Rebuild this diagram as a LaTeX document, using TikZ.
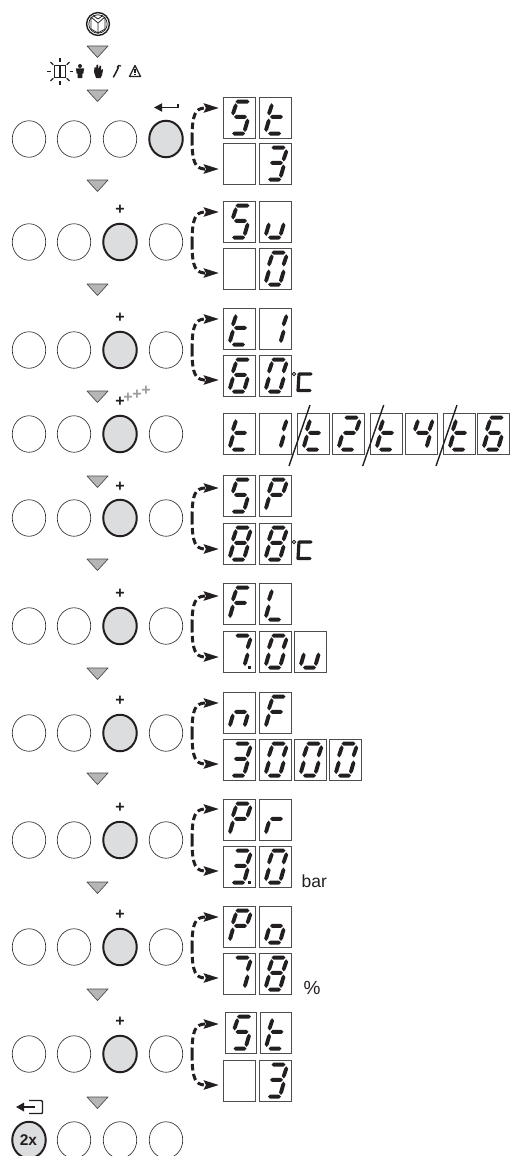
\documentclass[tikz,border=0pt]{standalone}
\usepackage{fontspec}
\setmainfont{Liberation Sans}
\usetikzlibrary{shapes.geometric,arrows.meta}
\definecolor{btnfill}{HTML}{DCDDDE}
\definecolor{trifill}{HTML}{B4B6B8}
\definecolor{inkc}{HTML}{231F20}
\definecolor{cellc}{HTML}{4D4D4D}
\definecolor{plusgray}{HTML}{9A9C9E}
\tikzset{
  btn/.style={ellipse,draw=inkc,line width=0.6pt,minimum width=33.5pt,minimum height=36.5pt,inner sep=0pt},
  actbtn/.style={ellipse,draw=inkc,line width=2pt,fill=btnfill,minimum width=33.5pt,minimum height=36.5pt,inner sep=0pt},
  dcell/.style={rectangle,draw=cellc,line width=1pt,minimum width=31.5pt,minimum height=40.5pt,inner sep=0pt,anchor=north west},
  tri/.style={draw=cellc,line width=0.7pt,fill=trifill,line join=round},
  conn/.style={draw=inkc,line width=3pt,dash pattern=on 6.5pt off 3.5pt,-{Stealth[length=15pt,width=9pt,inset=2pt]}},
  plusm/.style={text=inkc,font=\fontsize{16}{16}\selectfont\bfseries,inner sep=0pt},
  plusg/.style={text=plusgray,font=\fontsize{16}{16}\selectfont\bfseries,inner sep=0pt},
  unit/.style={text=inkc,font=\fontsize{17.5}{17.5}\selectfont,inner sep=0pt,anchor=base west},
  iconl/.style={draw=inkc,line width=0.9pt,line join=round},
}
\newcommand\hseg[3]{\fill[inkc] (#1,#3) -- (#1+2,#3-2) -- (#2-2,#3-2) -- (#2,#3) -- (#2-2,#3+2) -- (#1+2,#3+2) -- cycle;}
\newcommand\vseg[4]{\fill[inkc] (#1,#2) -- (#1+2,#2+2.5) -- (#3+2,#4-2.5) -- (#3,#4) -- (#3-2,#4-2.5) -- (#1-2,#2+2.5) -- cycle;}
\def\sega{\hseg{12.5}{26.5}{4.6}}
\def\segb{\vseg{27.2}{6.2}{24.8}{18.5}}
\def\segc{\vseg{24.4}{21.5}{22}{35}}
\def\segd{\hseg{9}{22}{36.5}}
\def\sege{\vseg{9.6}{21.5}{7.2}{35}}
\def\segf{\vseg{12.6}{6.2}{10.2}{18.5}}
\def\segg{\hseg{11}{24}{19.9}}
\def\segp{\fill[inkc] (25.4,35) rectangle (28.4,38);}
\def\dS{a,f,g,c,d}
\def\dt{f,e,g,d}
\def\du{e,c,d}
\def\dZ{a,b,c,d,e,f}
\def\dT{a,b,g,c,d}
\def\dTp{a,b,g,c,d,p}
\def\dO{b,c}
\def\dSix{a,f,g,e,d,c}
\def\dTw{a,b,g,e,d}
\def\dFo{f,g,b,c}
\def\dP{a,b,f,g,e}
\def\dE{a,b,c,d,e,f,g}
\def\dF{a,f,g,e}
\def\dL{f,e,d}
\def\dSe{a,b,c}
\def\dSep{a,b,c,p}
\def\dn{e,g,c}
\def\dr{e,g}
\def\dob{g,e,c,d}
\def\dN{z}
\newcommand\btnrow[3]{%
  \foreach \xx/\i in {29/1,74/2,120/3,166/4}{%
    \ifnum\i=#3\relax\def\st{actbtn}\else\def\st{btn}\fi
    \node[\st] (#1b\i) at (\xx,#2) {};
  }}
\newcommand\dcellat[4]{%
  \node[dcell] (#1) at (#2,#3) {};
  \begin{scope}[shift={(#2,#3)}]
    \foreach \s in #4 {\csname seg\s\endcsname}
  \end{scope}}
\newcommand\flowtri[1]{\draw[tri] (87,#1) -- (108,#1) -- (97.5,#1+11.5) -- cycle;}
\newcommand\linkdash[5]{%
  \coordinate (#1j) at (192,#2);
  \coordinate (#1t) at (#5,#3);
  \coordinate (#1u) at (#5,#4);
  \draw[conn] (#1j) .. controls (192,#3+5) and (196,#3+1) .. (204,#3) -- (#1t);
  \draw[conn] (#1j) .. controls (192,#4-5) and (196,#4-1) .. (204,#4) -- (#1u);}
\newcommand\plusat[2]{\node[plusm] (p#2) at (120,#1) {+};}
\newcommand\degc[3]{%
  \draw[inkc,line width=0.9pt] (#2,#3) circle (1.8);
  \draw[inkc,line width=3.2pt,line cap=round,line join=round] (#2+17,#3) -- (#2+5,#3) -- (#2+4,#3+16.5) -- (#2+16,#3+16.5);}
\begin{document}
\begin{tikzpicture}[x=1pt,y=-1pt]
\useasboundingbox (0,0) rectangle (509,1156);
% book icon
\draw[inkc,line width=1.4pt] (98,24) circle (11.4);
\draw[inkc,line width=0.7pt] (98,24) circle (9.2);
\draw[iconl,line width=0.8pt] (91,17) -- (98,23) -- (105,17) (91,17) -- (91,29) -- (98,33) -- (105,29) -- (105,17) (98,23) -- (98,33) (93,15.5) -- (98,19) -- (103,15.5);
% status icons
\draw[inkc,line width=1.7pt] (54.5,65.5) rectangle (65.5,77.5);
\draw[inkc,line width=1.5pt] (60,66.5) -- (60,76.5);
\foreach \a in {0,45,...,315}{\draw[inkc,line width=1.2pt] (60,71.5) ++(\a:9.5) -- ++(\a:3.8);}
\fill[inkc] (80,66) circle (2);
\fill[inkc] (76,68.5) -- (84,68.5) -- (83.4,73.5) -- (82.5,73.5) -- (82.3,78) -- (77.7,78) -- (77.5,73.5) -- (76.6,73.5) -- cycle;
\fill[inkc] (94,72) -- (94.5,67.5) -- (96,67.5) -- (96.3,69.5) -- (96.5,65) -- (98,64.5) -- (98.7,69.5) -- (99.7,65.5) -- (101,66) -- (101,70.5) -- (102.5,69) -- (103,70) -- (102,75) -- (100.5,78) -- (96,78) -- cycle;
\draw[inkc,line width=1.5pt,line cap=round] (113.5,77) .. controls (115,74) and (117,71) .. (118.5,67);
\draw[inkc,line width=1.2pt] (117,67.5) -- (118.5,65.5) -- (121,66);
\draw[iconl,line width=1.2pt] (129.5,76.5) -- (135,65.5) -- (140.5,76.5) -- cycle;
\draw[inkc,line width=1.3pt] (135,69.5) -- (135,73) (135,74) -- (135,75.3);
% triangles
\foreach \ty in {46,90,180,284,391,476,559,668,773,882,989,1097}{\flowtri{\ty}}
% row 1
\btnrow{ra}{139}{4}
\draw[inkc,line width=1.7pt,-{Stealth[length=8pt,width=8pt,inset=0pt]}] (178,103.5) -- (178,107.5) -- (154,107.5);
\dcellat{a1}{223}{97}{\dS}
\dcellat{a2}{259}{97}{\dt}
\dcellat{a3}{223}{143}{\dN}
\dcellat{a4}{259}{143}{\dT}
\linkdash{la}{139}{108}{169}{219}
% row 2
\btnrow{rb}{242}{3}
\plusat{210}{b}
\dcellat{b1}{223}{201}{\dS}
\dcellat{b2}{259}{201}{\du}
\dcellat{b3}{223}{248}{\dN}
\dcellat{b4}{259}{248}{\dZ}
\linkdash{lb}{243}{212}{273}{219}
% row 3
\btnrow{rc}{350}{3}
\plusat{318}{c}
\dcellat{c1}{223}{308}{\dt}
\dcellat{c2}{259}{308}{\dO}
\dcellat{c3}{223}{355}{\dSix}
\dcellat{c4}{259}{355}{\dZ}
\linkdash{lc}{350}{319}{380}{219}
\degc{c}{294}{374}
% row 4
\btnrow{rd}{434}{3}
\plusat{402}{d}
\node[plusg] (pd1) at (128,398) {+};
\node[plusg] (pd2) at (137,395) {+};
\node[plusg] (pd3) at (146,391) {+};
\dcellat{d1}{223}{413}{\dt}
\dcellat{d2}{259}{413}{\dO}
\dcellat{d3}{297}{413}{\dt}
\dcellat{d4}{332}{413}{\dTw}
\dcellat{d5}{370}{413}{\dt}
\dcellat{d6}{405}{413}{\dFo}
\dcellat{d7}{443}{413}{\dt}
\dcellat{d8}{477}{413}{\dSix}
\foreach \sx in {289,362.7,436}{\draw[inkc,line width=1.4pt] (\sx,466) -- (\sx+21,405);}
% row 5
\btnrow{re}{518}{3}
\plusat{487}{e}
\dcellat{e1}{223}{475}{\dS}
\dcellat{e2}{259}{475}{\dP}
\dcellat{e3}{223}{523}{\dE}
\dcellat{e4}{259}{523}{\dE}
\linkdash{le}{518}{488}{549}{219}
\degc{e}{294}{542}
% row 6
\btnrow{rf}{626}{3}
\plusat{594}{f}
\dcellat{f1}{223}{583}{\dF}
\dcellat{f2}{259}{583}{\dL}
\dcellat{f3}{223}{631}{\dSep}
\dcellat{f4}{259}{631}{\dZ}
\dcellat{f5}{294}{631}{\du}
\linkdash{lf}{626}{596}{657}{219}
% row 7
\btnrow{rg}{733}{3}
\plusat{701}{g}
\dcellat{g1}{223}{692}{\dn}
\dcellat{g2}{259}{692}{\dF}
\dcellat{g3}{223}{739}{\dT}
\dcellat{g4}{259}{739}{\dZ}
\dcellat{g5}{294}{739}{\dZ}
\dcellat{g6}{329}{739}{\dZ}
\linkdash{lg}{733}{703}{764}{219}
% row 8
\btnrow{rh}{840}{3}
\plusat{808}{h}
\dcellat{h1}{223}{799}{\dP}
\dcellat{h2}{259}{799}{\dr}
\dcellat{h3}{223}{846}{\dTp}
\dcellat{h4}{259}{846}{\dZ}
\linkdash{lh}{840}{809}{871}{219}
\node[unit] (ubar) at (301.5,887) {bar};
% row 9
\btnrow{ri}{947}{3}
\plusat{915}{i}
\dcellat{i1}{223}{906}{\dP}
\dcellat{i2}{259}{906}{\dob}
\dcellat{i3}{223}{953}{\dSe}
\dcellat{i4}{259}{953}{\dE}
\linkdash{li}{947}{917}{978}{219}
\node[unit,font=\fontsize{19}{19}\selectfont] (upct) at (303.5,994) {\%};
% row 10
\btnrow{rj}{1054}{3}
\plusat{1022}{j}
\dcellat{j1}{224.5}{1012}{\dS}
\dcellat{j2}{259.5}{1012}{\dt}
\dcellat{j3}{223}{1060}{\dN}
\dcellat{j4}{259}{1060}{\dT}
\linkdash{lj}{1054}{1024}{1085}{219}
% row 11
\btnrow{rk}{1140}{1}
\node[text=inkc,font=\fontsize{15.5}{15.5}\selectfont\bfseries,inner sep=0pt] (twox) at (28.5,1140) {2x};
\draw[inkc,line width=1.4pt,rounded corners=1pt] (29,1100.5) -- (42.5,1100.5) -- (42.5,1113.5) -- (29,1113.5);
\draw[inkc,line width=1.7pt,-{Stealth[length=8pt,width=8.5pt,inset=0pt]}] (35,1107) -- (16,1107);
\end{tikzpicture}
\end{document}
